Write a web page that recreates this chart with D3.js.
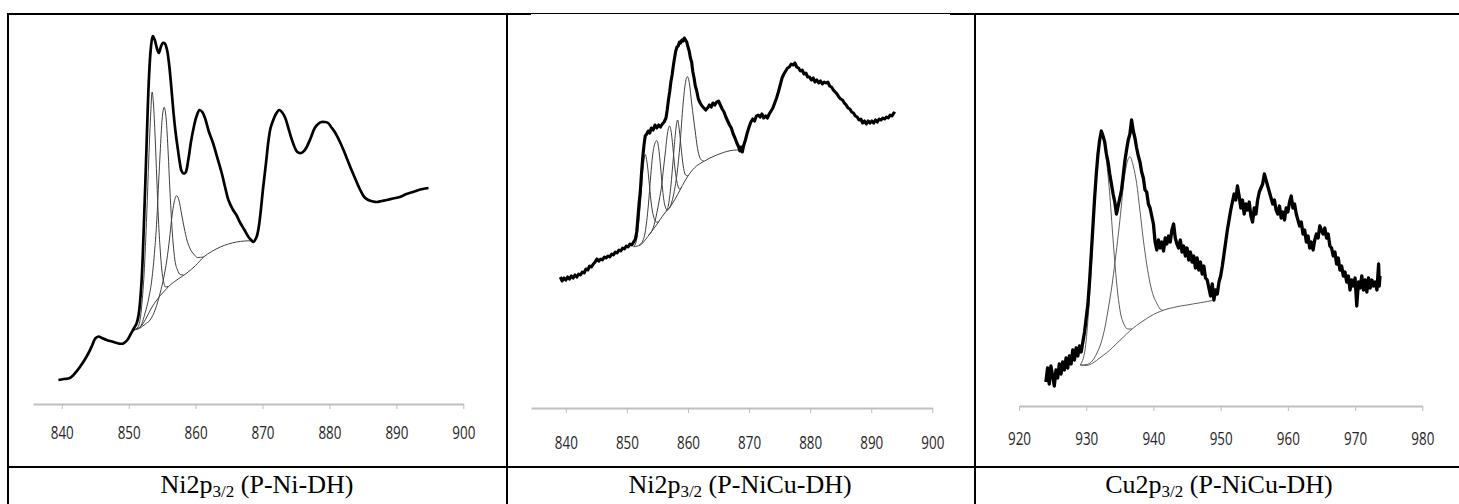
<!DOCTYPE html>
<html>
<head>
<meta charset="utf-8">
<script src="https://cdn.jsdelivr.net/npm/d3@7"></script>
<style>
  body { margin: 0; background: #fff; }
  svg { display: block; }
</style>
</head>
<body>
<svg id="fig" width="1459" height="504"></svg>
<script>
// ---- XPS spectra: binding energy (eV) vs. intensity (a.u.) ----

// Ni2p3/2, P-Ni-DH: measured envelope
const niDhEnvelope = [
  [839.5,24],[840.3,25],[841.2,26],[842.0,31],[842.7,37],[843.4,44],[844.0,51],[844.5,58],
  [845.0,65.5],[845.5,67.5],[846.0,66],[846.7,64],[847.5,62.5],[848.5,60.5],[849.2,60.5],
  [849.8,64],[850.3,70],[850.8,76],[851.2,81],[851.5,90],[851.9,120],[852.3,185],[852.7,265],
  [853.0,322],[853.3,355],[853.6,368],[853.9,364],[854.2,356],[854.5,351],[854.8,357],
  [855.1,361],[855.4,360.5],[855.7,355],[856.0,342],[856.3,322],[856.7,291],[857.0,272],
  [857.3,257],[857.6,243],[857.9,233],[858.2,230.5],[858.5,231.5],[858.9,244],[859.3,262],
  [859.7,276],[860.1,287],[860.6,294],[861.0,292],[861.4,286],[862.0,272],[862.6,261],
  [863.3,245],[863.9,231],[864.4,217],[864.9,204],[865.6,194],[866.1,189],[866.6,182],
  [867.3,174],[867.9,167],[868.3,164],[868.6,162],[869.1,167],[869.5,180],[870.1,217],
  [870.5,240],[870.9,264],[871.2,276],[871.6,284],[872.0,290],[872.5,294],[873.0,291],
  [873.4,286],[873.9,275],[874.4,264],[875.2,252],[875.8,251],[876.2,253],[876.6,257],
  [877.2,266],[877.8,276],[878.3,280],[878.8,282],[879.3,282],[879.8,281],[880.3,276.5],
  [880.8,272],[881.5,263],[882.1,254],[882.7,244],[883.3,234],[884.0,223],[884.6,214],
  [885.2,207],[885.8,204],[886.5,202.5],[887.1,202],[887.8,203],[888.6,204],[889.5,205.5],
  [890.5,207],[891.5,210],[892.5,212],[893.6,214.5],[894.8,216]
];
// Ni2p3/2, P-Ni-DH: Shirley background and fitted components
const niDhBackground = [
  [850.7,74],[851.4,75.5],[852.0,79],[852.7,87],[853.4,96],[854.2,104],[855.2,112],[856.2,119],
  [857.4,125],[858.7,131],[860.0,138.5],[861.2,147],[862.4,152.5],[863.7,157],[864.9,160],
  [866.1,162],[867.3,163],[868.4,163.3]
];
const niDhPeakA = [
  [850.7,74],[851.4,77],[851.9,95],[852.3,130],[852.7,190],[853.0,245],[853.3,292],[853.5,312],
  [853.7,300],[853.95,267],[854.2,225],[854.45,184],[854.7,155],[854.95,134],[855.2,123],
  [855.5,117],[855.9,117.5]
];
const niDhPeakB = [
  [850.7,74],[851.7,77],[852.45,91],[853.0,106],[853.45,124],[853.9,155],[854.2,184],[854.5,225],
  [854.7,251],[855.0,285],[855.3,296.7],[855.6,285],[855.9,251],[856.15,215],[856.4,184],
  [856.65,160],[856.9,144],[857.3,134],[857.7,129.5],[858.2,129]
];
const niDhPeakC = [
  [850.7,74],[851.7,76],[852.5,80],[853.2,84],[854.0,95],[854.7,111],[855.2,125],[855.7,144],
  [856.1,165],[856.4,184],[856.8,202],[857.15,208.3],[857.5,204],[857.9,190],[858.3,176],
  [858.7,164],[859.2,155],[859.7,150],[860.3,146.5],[861.2,147]
];

// Ni2p3/2, P-NiCu-DH: measured envelope
const niCuNiEnvelope = [
  [839.1,131],[839.4,127],[839.7,130],[840.0,128],[840.3,131],[840.6,129],[840.9,132],[841.2,130],
  [841.5,133],[841.8,131],[842.1,134],[842.4,133],[842.7,136],[843.0,135],[843.3,139],[843.6,138],
  [843.9,142],[844.2,141],[844.5,144],[844.8,146],[845.1,149],[845.4,147],[845.7,149],[846.0,148],
  [846.3,151],[846.6,150],[846.9,152],[847.2,151],[847.5,154],[847.8,153],[848.1,156],[848.4,155],
  [848.7,158],[849.0,157],[849.3,160],[849.6,159],[849.9,162],[850.2,161],[850.5,164],[850.8,163],
  [851.1,166],[851.4,169],[851.6,176],[851.8,190],[852.0,205],[852.2,217],[852.4,236],[852.6,251],
  [852.8,263],[853.0,272],[853.25,274],[853.5,277],[853.75,275],[854.0,280],[854.3,278],[854.6,283],
  [854.9,280],[855.2,283],[855.5,281],[855.8,284],[856.1,286],[856.4,290],[856.6,298],[856.8,308],
  [857.0,316],[857.2,326],[857.4,333],[857.6,342],[857.8,350],[858.0,357],[858.2,361],[858.4,362],
  [858.6,366],[858.8,365],[859.0,368],[859.2,367],[859.4,370],[859.6,368],[859.8,366],[860.0,361],
  [860.2,357],[860.4,350],[860.6,346],[860.8,336],[861.0,330],[861.2,322],[861.4,318],[861.7,309],
  [862.0,305],[862.3,302],[862.6,300],[862.9,298],[863.2,300],[863.5,303],[863.8,301],[864.1,305],
  [864.4,303],[864.7,306],[865.0,307],[865.3,303],[865.6,299],[865.9,296],[866.2,291],[866.5,287],
  [866.8,283],[867.1,280],[867.4,274],[867.7,270],[868.0,265],[868.3,261],[868.5,257],[868.7,261],
  [868.9,256],[869.1,262],[869.4,268],[869.7,275],[870.0,281],[870.3,286],[870.6,289],[870.9,287],
  [871.2,292],[871.5,293],[871.8,291],[872.1,294],[872.4,290],[872.7,292],[873.0,290],[873.3,294],
  [873.6,297],[873.9,300],[874.2,305],[874.5,310],[874.8,316],[875.1,323],[875.4,330],[875.7,334],
  [876.0,337],[876.3,340],[876.6,341],[876.9,344],[877.2,343],[877.5,345],[877.8,341],[878.1,340],
  [878.4,337],[878.7,338],[879.0,334],[879.3,335],[879.6,331],[879.9,331],[880.2,328],[880.5,330],
  [880.8,326],[881.1,328],[881.4,325],[881.7,327],[882.0,324],[882.3,326],[882.6,325],[882.9,326],
  [883.2,322],[883.5,321],[883.8,318],[884.1,316],[884.4,314],[884.7,311],[885.0,309],[885.3,308],
  [885.6,305],[885.9,303],[886.2,300],[886.5,299],[886.8,296],[887.1,295],[887.4,292],[887.7,291],
  [888.0,288],[888.3,289],[888.6,285],[888.9,287],[889.2,284],[889.5,287],[889.8,285],[890.1,287],
  [890.4,285],[890.7,288],[891.0,286],[891.3,289],[891.6,288],[891.9,290],[892.2,289],[892.5,291],
  [892.8,290],[893.1,293],[893.4,292],[893.7,295],[893.9,294]
];
// Ni2p3/2, P-NiCu-DH: background and five fitted components
const niCuNiBackground = [
  [851.1,161.3],[852.2,163],[853.0,168],[853.8,174.7],[854.6,181],[855.4,188],[856.2,195],
  [857.1,201.3],[857.9,209],[858.7,218],[859.5,227],[860.3,234.7],[861.4,242],[862.5,246.3],
  [863.6,250],[864.7,253],[865.8,255.5],[866.9,257.3],[868.0,258],[868.5,258]
];
const niCuNiPeak1 = [
  [851.1,161.3],[851.5,166],[851.9,183],[852.3,212],[852.65,240],[853.0,253.5],[853.35,243],
  [853.7,222],[854.0,204],[854.35,192],[854.8,186],[855.2,186]
];
const niCuNiPeak2 = [
  [852.0,163],[852.6,167],[853.0,176],[853.5,202],[853.9,232],[854.2,252],[854.55,264],[854.9,267.3],
  [855.2,260],[855.5,242],[855.85,218],[856.2,203],[856.6,198],[857.0,200.5]
];
const niCuNiPeak3 = [
  [853.6,173],[854.3,180],[854.9,195],[855.3,208],[855.7,223],[856.0,240],[856.3,256],[856.65,275],
  [857.0,282],[857.3,274],[857.6,256],[857.9,238],[858.2,226],[858.6,219],[859.0,221]
];
const niCuNiPeak4 = [
  [856.4,197],[856.8,203],[857.2,222],[857.6,250],[857.95,275],[858.3,288],[858.6,277],[858.85,262],
  [859.2,243],[859.6,233],[860.0,232]
];
const niCuNiPeak5 = [
  [857.0,200],[857.6,212],[858.2,234],[858.7,264],[859.2,304],[859.55,324],[859.9,331.3],
  [860.25,324],[860.6,305],[860.9,290],[861.2,276],[861.5,262],[861.8,253],[862.2,248],[862.6,247]
];

// Cu2p3/2, P-NiCu-DH: measured envelope
const niCuCuEnvelope = [
  [924.00,24],[924.25,38],[924.50,22],[924.75,40],[925.00,30],[925.25,20],[925.50,36],[925.75,28],
  [926.00,42],[926.25,32],[926.50,44],[926.75,36],[927.00,48],[927.25,38],[927.50,50],[927.75,42],
  [928.00,56],[928.25,46],[928.50,58],[928.75,50],[929.00,60],[929.25,54],[929.50,64],[929.75,74],
  [930.00,88],[930.25,102],[930.50,125],[930.75,152],[931.00,180],[931.25,208],[931.50,232],
  [931.75,252],[932.00,266],[932.25,275],[932.50,270],[932.75,264],[933.00,252],[933.25,244],
  [933.50,232],[933.75,222],[934.00,212],[934.25,204],[934.50,192],[934.75,200],[935.00,208],
  [935.25,216],[935.50,230],[935.75,245],[936.00,256],[936.25,266],[936.50,272],[936.75,286],
  [937.00,275],[937.25,268],[937.50,258],[937.75,250],[938.00,244],[938.25,234],[938.50,228],
  [938.75,216],[939.00,214],[939.25,202],[939.50,198],[939.75,190],[940.00,182],[940.25,164],
  [940.50,156],[940.75,166],[941.00,158],[941.25,164],[941.50,155],[941.75,168],[942.00,162],
  [942.25,170],[942.50,164],[942.75,176],[943.00,182],[943.25,168],[943.50,162],[943.75,158],
  [944.00,166],[944.25,154],[944.50,160],[944.75,150],[945.00,158],[945.25,146],[945.50,154],
  [945.75,144],[946.00,150],[946.25,138],[946.50,148],[946.75,136],[947.00,144],[947.25,132],
  [947.50,140],[947.75,128],[948.00,126],[948.25,118],[948.50,110],[948.75,122],[949.00,106],
  [949.25,116],[949.50,112],[949.75,124],[950.00,130],[950.25,140],[950.50,152],[950.75,164],
  [951.00,176],[951.25,186],[951.50,196],[951.75,204],[952.00,212],[952.25,206],[952.50,220],
  [952.75,210],[953.00,198],[953.25,206],[953.50,192],[953.75,202],[954.00,196],[954.25,204],
  [954.50,190],[954.75,184],[955.00,198],[955.25,192],[955.50,206],[955.75,214],[956.00,218],
  [956.25,222],[956.50,232],[956.75,226],[957.00,220],[957.25,214],[957.50,208],[957.75,202],
  [958.00,206],[958.25,196],[958.50,192],[958.75,200],[959.00,188],[959.25,194],[959.50,186],
  [959.75,198],[960.00,194],[960.25,204],[960.50,210],[960.75,198],[961.00,202],[961.25,192],
  [961.50,186],[961.75,180],[962.00,184],[962.25,172],[962.50,176],[962.75,164],[963.00,170],
  [963.25,158],[963.50,164],[963.75,156],[964.00,166],[964.25,172],[964.50,168],[964.75,180],
  [965.00,176],[965.25,172],[965.50,178],[965.75,168],[966.00,172],[966.25,160],[966.50,158],
  [966.75,150],[967.00,154],[967.25,142],[967.50,148],[967.75,136],[968.00,140],[968.25,130],
  [968.50,134],[968.75,124],[969.00,130],[969.25,116],[969.50,126],[969.75,120],[970.00,128],
  [970.25,100],[970.50,124],[970.75,118],[971.00,130],[971.25,116],[971.50,126],[971.75,114],
  [972.00,128],[972.25,118],[972.50,126],[972.75,120],[973.00,124],[973.25,116],[973.50,142],
  [973.60,120],[973.70,130]
];
// Cu2p3/2, P-NiCu-DH: background and two fitted components
const niCuCuBackground = [
  [929.1,41],[930.0,40.5],[931.0,43],[932.0,48],[933.0,53],[934.0,59],[935.0,65.5],[936.0,72],
  [937.0,78],[938.0,83],[939.0,87.5],[940.0,91.5],[941.0,94.5],[942.0,97],[943.0,98.5],[944.0,100],
  [945.0,101],[946.0,102.2],[947.0,103.3],[948.0,104.5],[948.8,105.5]
];
const niCuCuPeak1 = [
  [929.1,41],[929.8,55],[930.3,90],[930.8,145],[931.3,205],[931.8,250],[932.2,272],[932.7,262],
  [933.1,240],[933.5,212],[933.9,175],[934.3,140],[934.7,112],[935.1,93],[935.6,82],[936.2,77],
  [936.8,77]
];
const niCuCuPeak2 = [
  [929.1,41],[930.1,41.5],[931.0,46],[931.6,53],[932.2,63],[932.8,79],[933.3,98],[933.8,119],
  [934.3,145],[934.8,173],[935.2,198],[935.5,219],[935.9,238],[936.5,249.3],[937.0,240],
  [937.5,222.7],[938.0,195],[938.5,166],[939.0,142],[939.5,122.7],[940.0,110],[940.5,102.7],
  [941.0,97],[941.5,95.5]
];

// Axis ticks (binding energy, eV)
const niTicks = [840, 850, 860, 870, 880, 890, 900];
const cuTicks = [920, 930, 940, 950, 960, 970, 980];

// Panel captions: [element, subscript, sample]
const captions = [
  ["Ni2p", "3/2", " (P-Ni-DH)"],
  ["Ni2p", "3/2", " (P-NiCu-DH)"],
  ["Cu2p", "3/2", " (P-NiCu-DH)"]
];

// ---- layout ----
const panels = [
  { envelope: niDhEnvelope, smooth: true, lineWidth: 2.7,
    components: [niDhBackground, niDhPeakA, niDhPeakB, niDhPeakC],
    compColor: "#404040",
    domain: [835.7, 900], range: [33, 463.3], axisY: 404, ticks: niTicks, labelPad: 18,
    captionX: 257 },
  { envelope: niCuNiEnvelope, smooth: false, lineWidth: 3.1,
    components: [niCuNiBackground, niCuNiPeak1, niCuNiPeak2, niCuNiPeak3, niCuNiPeak4, niCuNiPeak5],
    compColor: "#404040",
    domain: [834.3, 900], range: [531, 932.3], axisY: 408, ticks: niTicks, labelPad: 24,
    captionX: 740 },
  { envelope: niCuCuEnvelope, smooth: false, lineWidth: 3.3,
    components: [niCuCuBackground, niCuCuPeak1, niCuCuPeak2],
    compColor: "#5e5e5e",
    domain: [920, 980], range: [1019, 1422.3], axisY: 406, ticks: cuTicks, labelPad: 22,
    captionX: 1219 }
];

const svg = d3.select("#fig");

panels.forEach((p, i) => {
  const x = d3.scaleLinear().domain(p.domain).range(p.range);
  const y = d3.scaleLinear().domain([0, 400]).range([p.axisY, p.axisY - 400]);
  const g = svg.append("g");

  // energy axis
  const axis = d3.axisBottom(x)
    .tickValues(p.ticks)
    .tickSize(5)
    .tickSizeOuter(0)
    .tickPadding(p.labelPad)
    .tickFormat(d3.format("d"));
  const ax = g.append("g").attr("transform", `translate(0,${p.axisY})`).call(axis);
  ax.select(".domain").attr("stroke", "#c0c0c0").attr("stroke-width", 2);
  ax.selectAll(".tick line").attr("stroke", "#bdbdbd").attr("stroke-width", 1);
  ax.selectAll(".tick text")
    .attr("fill", "#262626")
    .style("font-family", "'Open Sans', 'DejaVu Sans', sans-serif")
    .style("font-size", "17.5px")
    .attr("textLength", 23)
    .attr("lengthAdjust", "spacingAndGlyphs");

  // fitted components and background
  const thin = d3.line()
    .x(d => x(d[0])).y(d => y(d[1]))
    .curve(d3.curveMonotoneX);
  g.selectAll("path.comp")
    .data(p.components)
    .join("path")
    .attr("class", "comp")
    .attr("d", thin)
    .attr("fill", "none")
    .attr("stroke", p.compColor)
    .attr("stroke-width", 1);

  // measured envelope
  const main = d3.line()
    .x(d => x(d[0])).y(d => y(d[1]))
    .curve(p.smooth ? d3.curveCatmullRom : d3.curveLinear);
  g.append("path")
    .datum(p.envelope)
    .attr("d", main)
    .attr("fill", "none")
    .attr("stroke", "#000")
    .attr("stroke-width", p.lineWidth)
    .attr("stroke-linejoin", "round");

  // caption
  const c = captions[i];
  const t = svg.append("text")
    .attr("x", p.captionX).attr("y", 493)
    .attr("text-anchor", "middle")
    .style("font-family", "'Liberation Serif', 'Times New Roman', serif")
    .style("font-size", "26px")
    .attr("fill", "#000");
  t.append("tspan").text(c[0]);
  t.append("tspan").attr("dy", 4).style("font-size", "17px").text(c[1]);
  t.append("tspan").attr("dy", -4).text(c[2]);
});

// table frame
const frame = [
  [7, 13, 2, 491],      // left edge
  [7, 13, 524, 2],      // top, first cell
  [531, 13, 419, 1],    // top, middle
  [950, 13, 509, 2],    // top, last cell
  [506, 13, 2, 491],    // divider 1
  [974, 13, 2, 491],    // divider 2
  [7, 466, 1452, 2]     // caption row separator
];
svg.append("g").selectAll("rect")
  .data(frame)
  .join("rect")
  .attr("x", d => d[0]).attr("y", d => d[1])
  .attr("width", d => d[2]).attr("height", d => d[3])
  .attr("fill", "#000");
</script>
</body>
</html>
